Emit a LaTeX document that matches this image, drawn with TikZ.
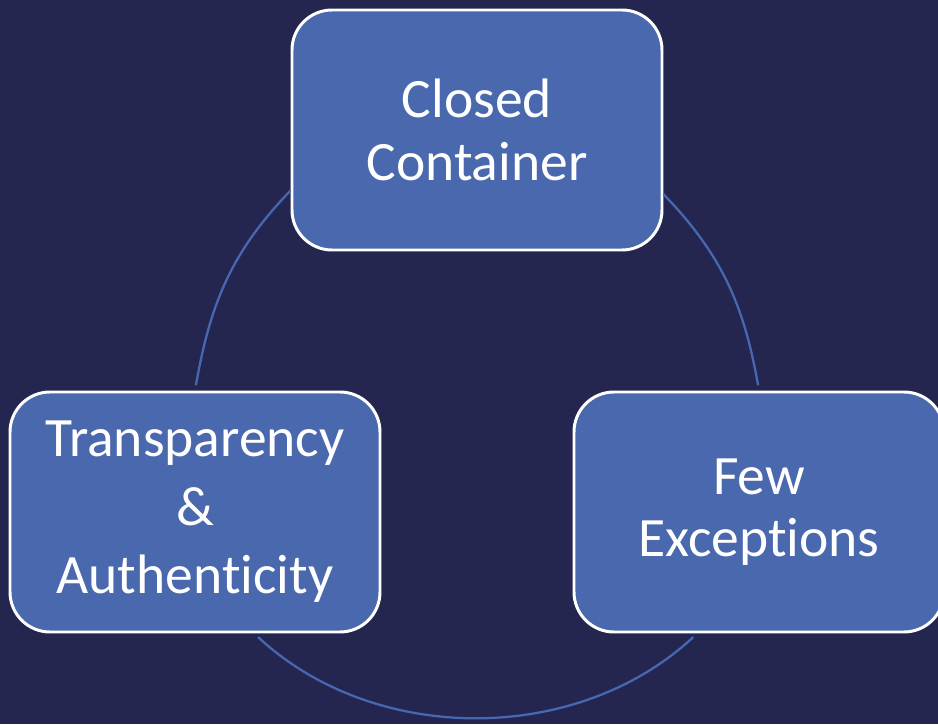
\documentclass[tikz,border=0pt]{standalone}
\usepackage{fontspec}
\setmainfont{Carlito}[Ligatures=CommonOff]
\usetikzlibrary{positioning,calc}

\definecolor{navybg}{RGB}{36,38,80}
\definecolor{boxblue}{RGB}{74,104,174}
\definecolor{ringblue}{RGB}{70,104,176}

\tikzset{
	cyclebox/.style={draw=white, line width=1.7pt, fill=boxblue, text=white,
		rounded corners=0.8cm, minimum width=7.4cm, minimum height=4.8cm,
		align=center, inner sep=0pt, font=\fontsize{31.6}{35.6}\selectfont},
	ring/.style={ringblue, line width=1.3pt},
}

\begin{document}
\begin{tikzpicture}
		\fill[navybg] (0,0) rectangle (18.76,14.48);
		\useasboundingbox (0,0) rectangle (18.76,14.48);
		%
		\node[cyclebox, font=\fontsize{31.6}{39}\selectfont] (trans) at (3.90,4.24) {Transparency\\\&\\Authenticity};
		\node[cyclebox, right=3.82cm of trans] (few) {Few\\Exceptions};
		\node[cyclebox] at ($(trans)!0.5!(few)+(0,7.64)$) (closed) {Closed\\Container};
		%
		\draw[ring, shorten >=3pt] (closed.198.5) to[out=226, in=80] (trans.north);
		\draw[ring, shorten >=3pt] (closed.341.5) to[out=-46, in=100] (few.north);
		\draw[ring, shorten <=3pt, shorten >=3pt] (trans.296.2) to[out=-43, in=-137, looseness=0.95] (few.243.8);
	\end{tikzpicture}
\end{document}
